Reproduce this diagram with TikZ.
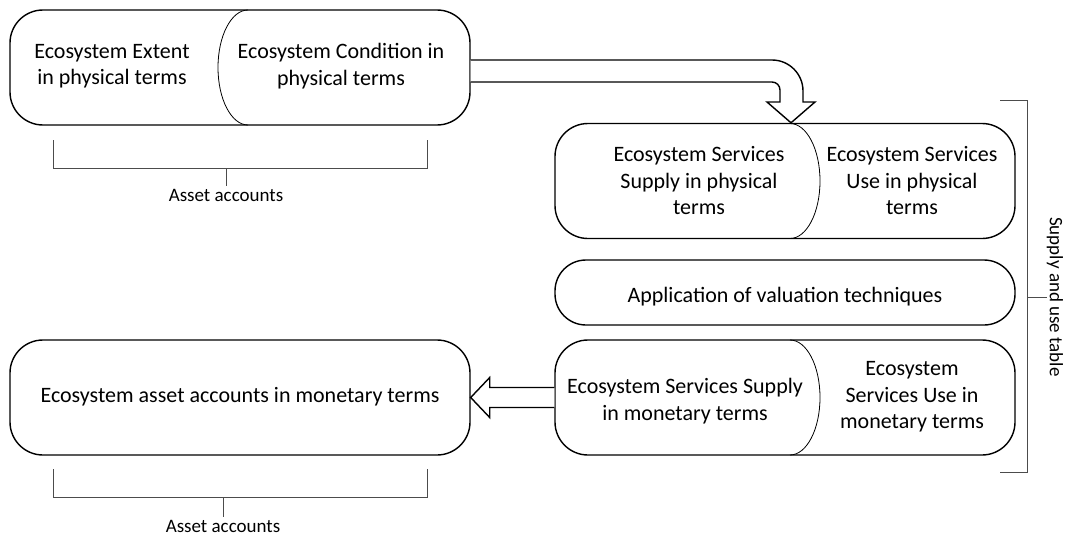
\documentclass[tikz,border=0pt]{standalone}
\usepackage{fontspec}
\setmainfont{Carlito}
\usetikzlibrary{calc}
\begin{document}
\begin{tikzpicture}[x=1pt,y=-1pt,
 pill/.style={draw, line width=1.4pt, rounded corners=33pt, minimum width=460pt, minimum height=115pt, inner sep=0pt},
 lbl/.style={align=center, font=\fontsize{22}{26.5}\selectfont, inner sep=0pt},
 small/.style={font=\fontsize{19}{22}\selectfont, inner sep=0pt},
 divider/.style={draw, line width=0.8pt},
 brk/.style={draw, line width=1pt, black!70},
 blockarrow/.style={draw, line width=1.4pt, fill=white, line join=miter}]
\useasboundingbox (0,0) rectangle (1065,535);

% pills
\node[pill] (ext) at (240,67.5) {};
\node[pill] (ess) at (785,181) {};
\node[pill, minimum height=65pt, rounded corners=31pt] (val) at (785,292.5) {};
\node[pill] (esm) at (785,397.5) {};
\node[pill] (mon) at (240,397.5) {};

% dividers (half-ellipses)
\draw[divider] (248,10) .. controls (231.4,10) and (218,35.7) .. (218,67.5)
  .. controls (218,99.3) and (231.4,125) .. (248,125);
\draw[divider] (790,123.5) .. controls (806.6,123.5) and (820,149.2) .. (820,181)
  .. controls (820,212.8) and (806.6,238.5) .. (790,238.5);
\draw[divider] (790,340) .. controls (806.6,340) and (820,365.7) .. (820,397.5)
  .. controls (820,429.3) and (806.6,455) .. (790,455);

% texts
\node[lbl] (t1) at (112,66) {Ecosystem Extent\\in physical terms};
\node[lbl] (t2) at (341,66) {Ecosystem Condition in\\physical terms};
\node[lbl] (t3) at (699,181) {Ecosystem Services\\Supply in physical\\terms};
\node[lbl] (t4) at (912,181) {Ecosystem Services\\Use in physical\\terms};
\node[lbl] (t5) at (785,297) {Application of valuation techniques};
\node[lbl] (t6) at (685,401) {Ecosystem Services Supply\\in monetary terms};
\node[lbl] (t7) at (912,397) {Ecosystem\\Services Use in\\monetary terms};
\node[lbl] (t8) at (240,397) {Ecosystem asset accounts in monetary terms};

% top block arrow
\coordinate (tip) at ($(ess.north)+(6,0)$);
\draw[blockarrow] ($(ext.east)+(0,-7.5)$) -- (772,60)
  .. controls (789.1,60) and (803,73.9) .. (803,91) -- (803,102) -- (815,102) -- (tip)
  -- (767,102) -- (780,102) -- (780,90)
  .. controls (780,85.6) and (776.4,82) .. (772,82) -- ($(ext.east)+(0,14.5)$);

% left block arrow
\draw[blockarrow] ($(esm.west)+(0,-10)$) -- ($(mon.east)+(19,-10)$) -- ($(mon.east)+(19,-20)$)
  -- (mon.east) -- ($(mon.east)+(19,20)$) -- ($(mon.east)+(19,10)$) -- ($(esm.west)+(0,10)$);

% brackets
\draw[brk] (53,140) -- (53,168) -- (427,168) -- (427,140);
\node[small, anchor=north] (aa1) at (226,189) {Asset accounts};
\draw[brk] (226,168) -- ($(aa1.north)+(0,-3)$);

\draw[brk] (53,469) -- (53,497) -- (427,497) -- (427,469);
\node[small, anchor=north] (aa2) at (223,520) {Asset accounts};
\draw[brk] (223,497) -- ($(aa2.north)+(0,-3)$);

\draw[brk] (1000,100) -- (1027,100) -- (1027,472) -- (1000,472);
\node[small, rotate=-90] (sut) at (1055,297) {Supply and use table};
\draw[brk] (1027,297) -- (sut.south);
\end{tikzpicture}
\end{document}
